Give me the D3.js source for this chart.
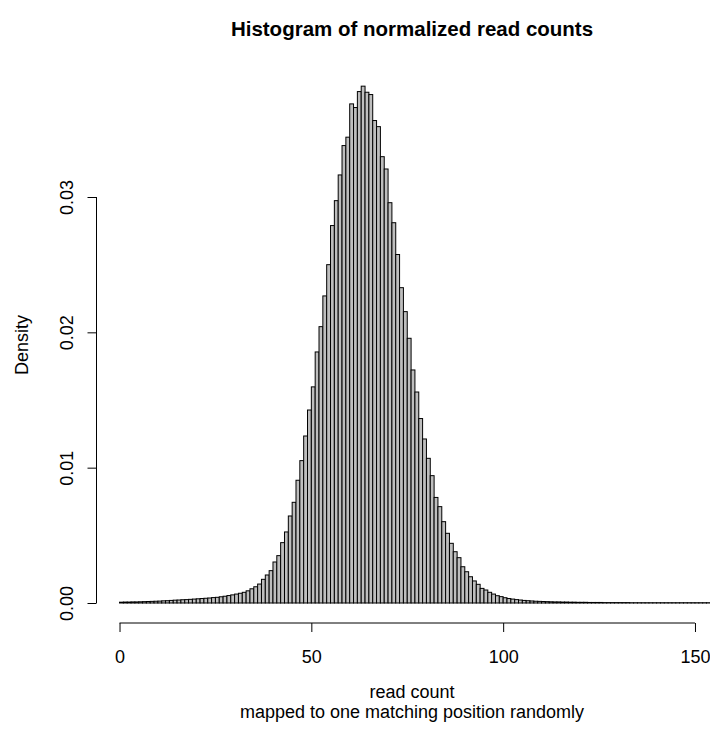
<!DOCTYPE html>
<html>
<head>
<meta charset="utf-8">
<script src="https://cdn.jsdelivr.net/npm/d3@7"></script>
<style>
  body { margin: 0; background: #fff; }
  svg text { font-family: "Liberation Sans", Arial, Helvetica, sans-serif; }
</style>
</head>
<body>
<svg class="hist" width="710" height="734"></svg>
<script>
// histogram densities, one bin per unit read count starting at 0
const density = [
  0.00006, 0.00007, 0.00007, 0.00008, 0.00008, 0.00009, 0.0001, 0.00011, 0.00012, 0.00013,
  0.00014, 0.00016, 0.00017, 0.00019, 0.00021, 0.00022, 0.00024, 0.00025, 0.00027, 0.00029,
  0.00031, 0.00033, 0.00035, 0.00037, 0.0004, 0.00042, 0.00046, 0.0005, 0.00055, 0.0006,
  0.00066, 0.00072, 0.00079, 0.0009, 0.00105, 0.0012, 0.0014, 0.00175, 0.00207, 0.00239,
  0.00303, 0.0035, 0.00446, 0.00525, 0.00643, 0.00744, 0.00907, 0.01052, 0.01234, 0.01426,
  0.01597, 0.01855, 0.02042, 0.02269, 0.025, 0.02789, 0.02973, 0.03163, 0.0338, 0.03442,
  0.03688, 0.03661, 0.03779, 0.03819, 0.03774, 0.03757, 0.03565, 0.0352, 0.03298, 0.03207,
  0.02958, 0.0281, 0.02575, 0.0233, 0.02153, 0.01956, 0.01722, 0.01559, 0.01363, 0.01212,
  0.01069, 0.00941, 0.0078, 0.00712, 0.00601, 0.00515, 0.00441, 0.00379, 0.00335, 0.00268,
  0.00231, 0.00194, 0.00163, 0.00138, 0.00108, 0.00096, 0.00079, 0.00066, 0.00054, 0.00047,
  0.00039, 0.00033, 0.00029, 0.00025, 0.00022, 0.00019, 0.00017, 0.00015, 0.00013, 0.00012,
  0.00011, 0.0001, 0.00009, 0.00008, 0.00008, 0.00007, 0.00007, 0.00006, 0.00006, 0.00005,
  0.00005, 0.00005, 0.00004, 0.00004, 0.00004, 0.00004, 0.00003, 0.00003, 0.00003, 0.00003,
  0.00003, 0.00003, 0.00003, 0.00002, 0.00002, 0.00002, 0.00002, 0.00002, 0.00002, 0.00002,
  0.00002, 0.00002, 0.00002, 0.00002, 0.00002, 0.00002, 0.00002, 0.00002, 0.00002, 0.00002,
  0.00002, 0.00002, 0.00002, 0.00002, 0.00002, 0.00002
];
const binWidth = 1;
const xTicks = [0, 50, 100, 150];
const yTicks = [0, 0.01, 0.02, 0.03];
const title = "Histogram of normalized read counts";
const xLabel = ["read count", "mapped to one matching position randomly"];
const yLabel = "Density";

const bins = density.map((d, i) => ({ x0: i * binWidth, x1: (i + 1) * binWidth, d: d }));

const svg = d3.select(".hist");
const width = 710;
const height = 734;

// R style plot region: xlim 0..150 extended 4%
const x = d3.scaleLinear().domain([-6, 156]).range([96.5, 718]);
const y = d3.scaleLinear().domain([0, 0.03]).range([603, 197]);
const axisY = 623;
const axisX = 96.5;
const labelSize = 18;

svg.append("clipPath").attr("id", "plotclip")
  .append("rect")
  .attr("x", x(-6)).attr("y", 60)
  .attr("width", x(156) - x(-6)).attr("height", axisY - 60);

svg.append("g")
  .attr("clip-path", "url(#plotclip)")
  .selectAll("rect")
  .data(bins)
  .join("rect")
  .attr("x", (b) => x(b.x0))
  .attr("y", (b) => y(b.d))
  .attr("width", (b) => x(b.x1) - x(b.x0))
  .attr("height", (b) => y(0) - y(b.d))
  .attr("fill", "#bebebe")
  .attr("stroke", "#000")
  .attr("stroke-width", 1);

// x axis
const gx = svg.append("g")
  .attr("transform", `translate(0,${axisY})`)
  .call(d3.axisBottom(x).tickValues(xTicks).tickSize(9).tickSizeOuter(0));
gx.select(".domain").remove();
gx.append("line")
  .attr("x1", x(xTicks[0])).attr("x2", x(xTicks[xTicks.length - 1]))
  .attr("stroke", "#000");
gx.selectAll(".tick line").attr("stroke", "#000");
gx.selectAll(".tick text")
  .attr("fill", "#000")
  .attr("font-size", labelSize)
  .attr("dy", null)
  .attr("y", 34)
  .attr("dominant-baseline", "central");

// y axis
const gy = svg.append("g")
  .attr("transform", `translate(${axisX},0)`)
  .call(d3.axisLeft(y).tickValues(yTicks).tickFormat(d3.format(".2f")).tickSize(9).tickSizeOuter(0));
gy.select(".domain").remove();
gy.append("line")
  .attr("y1", y(yTicks[0])).attr("y2", y(yTicks[yTicks.length - 1]))
  .attr("stroke", "#000");
gy.selectAll(".tick line").attr("stroke", "#000");
gy.selectAll(".tick text")
  .attr("fill", "#000")
  .attr("font-size", labelSize)
  .attr("transform", "rotate(-90)")
  .attr("x", 0)
  .attr("dy", null)
  .attr("y", -30)
  .attr("text-anchor", "middle")
  .attr("dominant-baseline", "central");

// titles
svg.append("text")
  .attr("x", 412)
  .attr("y", 28)
  .attr("text-anchor", "middle")
  .attr("dominant-baseline", "central")
  .attr("font-size", 20.5)
  .attr("font-weight", "bold")
  .text(title);

svg.selectAll(".xlab")
  .data(xLabel)
  .join("text")
  .attr("class", "xlab")
  .attr("x", 412)
  .attr("y", (d, i) => 692 + i * 19.5)
  .attr("text-anchor", "middle")
  .attr("dominant-baseline", "central")
  .attr("font-size", labelSize)
  .text((d) => d);

svg.append("text")
  .attr("transform", "translate(22,345) rotate(-90)")
  .attr("text-anchor", "middle")
  .attr("dominant-baseline", "central")
  .attr("font-size", labelSize)
  .text(yLabel);
</script>
</body>
</html>
